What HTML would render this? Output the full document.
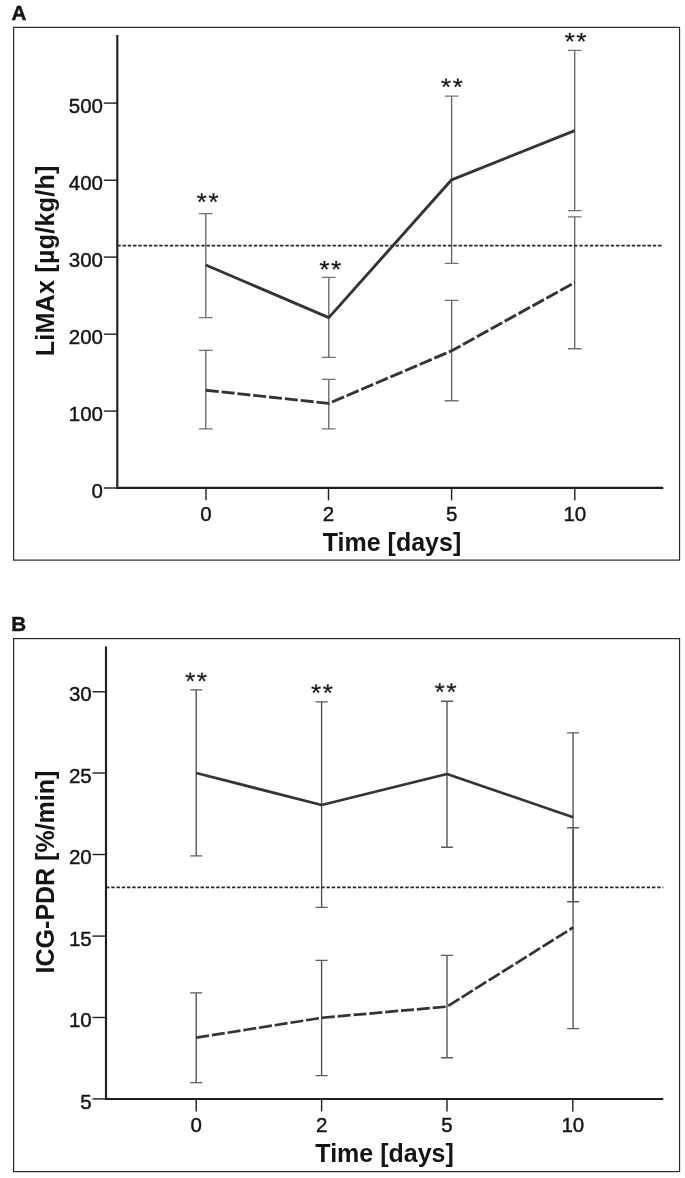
<!DOCTYPE html>
<html><head><meta charset="utf-8"><title>Figure</title>
<style>
html,body{margin:0;padding:0;background:#fff;}
body{width:685px;height:1178px;overflow:hidden;font-family:"Liberation Sans",sans-serif;}
svg{display:block;font-family:"Liberation Sans",sans-serif;filter:grayscale(1);}
</style></head><body>
<svg width="685" height="1178" viewBox="0 0 685 1178">
<rect width="685" height="1178" fill="#fff"/>
<g>
<rect x="13.6" y="27.4" width="665.95" height="532.7" fill="#fff" stroke="#2a2a2a" stroke-width="1.2"/>
<text x="11.4" y="20.4" font-size="20.6" font-weight="700" fill="#141414" stroke="#141414" stroke-width="0.45">A</text>
<path d="M205.8 213.6V317.6" stroke="#666666" stroke-width="1.35" fill="none"/><path d="M198.95 213.6H212.65M198.95 317.6H212.65" stroke="#727272" stroke-width="1.35" fill="none"/>
<path d="M205.8 350.4V428.9" stroke="#666666" stroke-width="1.35" fill="none"/><path d="M198.95 350.4H212.65M198.95 428.9H212.65" stroke="#727272" stroke-width="1.35" fill="none"/>
<path d="M328.8 277.4V357.4" stroke="#666666" stroke-width="1.35" fill="none"/><path d="M321.95 277.4H335.65M321.95 357.4H335.65" stroke="#727272" stroke-width="1.35" fill="none"/>
<path d="M328.8 379.3V428.9" stroke="#666666" stroke-width="1.35" fill="none"/><path d="M321.95 379.3H335.65M321.95 428.9H335.65" stroke="#727272" stroke-width="1.35" fill="none"/>
<path d="M451.6 96.1V263.4" stroke="#666666" stroke-width="1.35" fill="none"/><path d="M444.75 96.1H458.45M444.75 263.4H458.45" stroke="#727272" stroke-width="1.35" fill="none"/>
<path d="M451.6 300.4V400.7" stroke="#666666" stroke-width="1.35" fill="none"/><path d="M444.75 300.4H458.45M444.75 400.7H458.45" stroke="#727272" stroke-width="1.35" fill="none"/>
<path d="M574.7 50.4V210.6" stroke="#666666" stroke-width="1.35" fill="none"/><path d="M567.85 50.4H581.55M567.85 210.6H581.55" stroke="#727272" stroke-width="1.35" fill="none"/>
<path d="M574.7 216.8V348.7" stroke="#666666" stroke-width="1.35" fill="none"/><path d="M567.85 216.8H581.55M567.85 348.7H581.55" stroke="#727272" stroke-width="1.35" fill="none"/>
<path d="M117.3 245.6H663.3" stroke="#262626" stroke-width="1.7" stroke-dasharray="3.4 1.85" fill="none"/>
<polyline points="205.8,265 328.8,317.6 451.6,179.8 574.7,130.7" fill="none" stroke="#343434" stroke-width="2.9" stroke-linejoin="round"/>
<polyline points="205.8,390.2 328.8,403.4 451.6,350.8 574.7,282.5" fill="none" stroke="#343434" stroke-width="2.9" stroke-dasharray="13 2.9" stroke-linejoin="round"/>
<path d="M117.3 35V487.8H663.3" fill="none" stroke="#1e1e1e" stroke-width="2.15" stroke-linejoin="miter"/>
<path d="M103.8 488H117.3" stroke="#1e1e1e" stroke-width="1.4"/>
<text x="103" y="498" font-size="20.5" text-anchor="end" fill="#141414" stroke="#141414" stroke-width="0.42">0</text>
<path d="M103.8 411.1H117.3" stroke="#1e1e1e" stroke-width="1.4"/>
<text x="103" y="421.1" font-size="20.5" text-anchor="end" fill="#141414" stroke="#141414" stroke-width="0.42">100</text>
<path d="M103.8 334.2H117.3" stroke="#1e1e1e" stroke-width="1.4"/>
<text x="103" y="344.2" font-size="20.5" text-anchor="end" fill="#141414" stroke="#141414" stroke-width="0.42">200</text>
<path d="M103.8 257.1H117.3" stroke="#1e1e1e" stroke-width="1.4"/>
<text x="103" y="267.1" font-size="20.5" text-anchor="end" fill="#141414" stroke="#141414" stroke-width="0.42">300</text>
<path d="M103.8 180.2H117.3" stroke="#1e1e1e" stroke-width="1.4"/>
<text x="103" y="190.2" font-size="20.5" text-anchor="end" fill="#141414" stroke="#141414" stroke-width="0.42">400</text>
<path d="M103.8 103.1H117.3" stroke="#1e1e1e" stroke-width="1.4"/>
<text x="103" y="113.1" font-size="20.5" text-anchor="end" fill="#141414" stroke="#141414" stroke-width="0.42">500</text>
<path d="M206 487.8V500.3" stroke="#1e1e1e" stroke-width="1.4"/>
<text x="206" y="520.7" font-size="20.5" text-anchor="middle" fill="#141414" stroke="#141414" stroke-width="0.42">0</text>
<path d="M328.5 487.8V500.3" stroke="#1e1e1e" stroke-width="1.4"/>
<text x="328.5" y="520.7" font-size="20.5" text-anchor="middle" fill="#141414" stroke="#141414" stroke-width="0.42">2</text>
<path d="M451.6 487.8V500.3" stroke="#1e1e1e" stroke-width="1.4"/>
<text x="451.6" y="520.7" font-size="20.5" text-anchor="middle" fill="#141414" stroke="#141414" stroke-width="0.42">5</text>
<path d="M574.8 487.8V500.3" stroke="#1e1e1e" stroke-width="1.4"/>
<text x="574.8" y="520.7" font-size="20.5" text-anchor="middle" fill="#141414" stroke="#141414" stroke-width="0.42">10</text>
<path d="M202.3 197.8L202.6 193.6L200.9 193.6L201.2 197.8ZM201.92 197.28L197.64 195.57L197.11 197.19L201.58 198.32ZM201.31 197.48L198.36 201.02L199.73 202.02L202.19 198.12ZM201.31 198.12L203.77 202.02L205.14 201.02L202.19 197.48ZM201.92 198.32L206.39 197.19L205.86 195.57L201.58 197.28ZM214 197.8L214.3 193.6L212.6 193.6L212.9 197.8ZM213.62 197.28L209.34 195.57L208.81 197.19L213.28 198.32ZM213.01 197.48L210.06 201.02L211.43 202.02L213.89 198.12ZM213.01 198.12L215.47 202.02L216.84 201.02L213.89 197.48ZM213.62 198.32L218.09 197.19L217.56 195.57L213.28 197.28Z" fill="#141414" stroke="#141414" stroke-width="0.3" stroke-linejoin="round"/>
<path d="M325 265.3L325.3 261.1L323.6 261.1L323.9 265.3ZM324.62 264.78L320.34 263.07L319.81 264.69L324.28 265.82ZM324.01 264.98L321.06 268.52L322.43 269.52L324.89 265.62ZM324.01 265.62L326.47 269.52L327.84 268.52L324.89 264.98ZM324.62 265.82L329.09 264.69L328.56 263.07L324.28 264.78ZM336.7 265.3L337 261.1L335.3 261.1L335.6 265.3ZM336.32 264.78L332.04 263.07L331.51 264.69L335.98 265.82ZM335.71 264.98L332.76 268.52L334.13 269.52L336.59 265.62ZM335.71 265.62L338.17 269.52L339.54 268.52L336.59 264.98ZM336.32 265.82L340.79 264.69L340.26 263.07L335.98 264.78Z" fill="#141414" stroke="#141414" stroke-width="0.3" stroke-linejoin="round"/>
<path d="M446.6 82.9L446.9 78.7L445.2 78.7L445.5 82.9ZM446.22 82.38L441.94 80.67L441.41 82.29L445.88 83.42ZM445.61 82.58L442.66 86.12L444.03 87.12L446.49 83.22ZM445.61 83.22L448.07 87.12L449.44 86.12L446.49 82.58ZM446.22 83.42L450.69 82.29L450.16 80.67L445.88 82.38ZM458.3 82.9L458.6 78.7L456.9 78.7L457.2 82.9ZM457.92 82.38L453.64 80.67L453.11 82.29L457.58 83.42ZM457.31 82.58L454.36 86.12L455.73 87.12L458.19 83.22ZM457.31 83.22L459.77 87.12L461.14 86.12L458.19 82.58ZM457.92 83.42L462.39 82.29L461.86 80.67L457.58 82.38Z" fill="#141414" stroke="#141414" stroke-width="0.3" stroke-linejoin="round"/>
<path d="M570.3 37.3L570.6 33.1L568.9 33.1L569.2 37.3ZM569.92 36.78L565.64 35.07L565.11 36.69L569.58 37.82ZM569.31 36.98L566.36 40.52L567.73 41.52L570.19 37.62ZM569.31 37.62L571.77 41.52L573.14 40.52L570.19 36.98ZM569.92 37.82L574.39 36.69L573.86 35.07L569.58 36.78ZM582 37.3L582.3 33.1L580.6 33.1L580.9 37.3ZM581.62 36.78L577.34 35.07L576.81 36.69L581.28 37.82ZM581.01 36.98L578.06 40.52L579.43 41.52L581.89 37.62ZM581.01 37.62L583.47 41.52L584.84 40.52L581.89 36.98ZM581.62 37.82L586.09 36.69L585.56 35.07L581.28 36.78Z" fill="#141414" stroke="#141414" stroke-width="0.3" stroke-linejoin="round"/>
<text x="392" y="551" font-size="25" font-weight="700" text-anchor="middle" fill="#141414">Time [days]</text>
<text transform="translate(54 260.85) rotate(-90)" font-size="25" font-weight="700" text-anchor="middle" letter-spacing="0.285" fill="#141414">LiMAx [µg/kg/h]</text>
</g>
<g>
<rect x="13.6" y="638.6" width="665.95" height="533" fill="#fff" stroke="#2a2a2a" stroke-width="1.2"/>
<text x="11.2" y="631.2" font-size="20.6" font-weight="700" fill="#141414" stroke="#141414" stroke-width="0.45">B</text>
<path d="M196.2 689.8V855.8" stroke="#505050" stroke-width="1.35" fill="none"/><path d="M190.2 689.8H202.2M190.2 855.8H202.2" stroke="#5c5c5c" stroke-width="1.35" fill="none"/>
<path d="M196.2 992.8V1082.6" stroke="#505050" stroke-width="1.35" fill="none"/><path d="M190.2 992.8H202.2M190.2 1082.6H202.2" stroke="#5c5c5c" stroke-width="1.35" fill="none"/>
<path d="M321.6 701.9V907.3" stroke="#505050" stroke-width="1.35" fill="none"/><path d="M315.6 701.9H327.6M315.6 907.3H327.6" stroke="#5c5c5c" stroke-width="1.35" fill="none"/>
<path d="M321.6 960.4V1075.6" stroke="#505050" stroke-width="1.35" fill="none"/><path d="M315.6 960.4H327.6M315.6 1075.6H327.6" stroke="#5c5c5c" stroke-width="1.35" fill="none"/>
<path d="M447 701.2V847.2" stroke="#505050" stroke-width="1.35" fill="none"/><path d="M441 701.2H453M441 847.2H453" stroke="#5c5c5c" stroke-width="1.35" fill="none"/>
<path d="M447 955.4V1057.7" stroke="#505050" stroke-width="1.35" fill="none"/><path d="M441 955.4H453M441 1057.7H453" stroke="#5c5c5c" stroke-width="1.35" fill="none"/>
<path d="M573.1 732.8V901.7" stroke="#505050" stroke-width="1.35" fill="none"/><path d="M567.1 732.8H579.1M567.1 901.7H579.1" stroke="#5c5c5c" stroke-width="1.35" fill="none"/>
<path d="M573.1 827.7V1028.6" stroke="#505050" stroke-width="1.35" fill="none"/><path d="M567.1 827.7H579.1M567.1 1028.6H579.1" stroke="#5c5c5c" stroke-width="1.35" fill="none"/>
<path d="M106 887.3H663.3" stroke="#262626" stroke-width="1.7" stroke-dasharray="3.4 1.85" fill="none"/>
<polyline points="196.2,773 321.6,805 447,774 573.1,817.3" fill="none" stroke="#343434" stroke-width="2.7" stroke-linejoin="round"/>
<polyline points="196.2,1037.7 321.6,1017.8 447,1006.6 573.1,927.5" fill="none" stroke="#343434" stroke-width="2.7" stroke-dasharray="13 2.9" stroke-linejoin="round"/>
<path d="M106 646.5V1099.0H663.3" fill="none" stroke="#1e1e1e" stroke-width="2.15" stroke-linejoin="miter"/>
<path d="M92.5 1098.9H106" stroke="#1e1e1e" stroke-width="1.4"/>
<text x="91.7" y="1108.5" font-size="20.5" text-anchor="end" fill="#141414" stroke="#141414" stroke-width="0.42">5</text>
<path d="M92.5 1017.5H106" stroke="#1e1e1e" stroke-width="1.4"/>
<text x="91.7" y="1027.1" font-size="20.5" text-anchor="end" fill="#141414" stroke="#141414" stroke-width="0.42">10</text>
<path d="M92.5 936.1H106" stroke="#1e1e1e" stroke-width="1.4"/>
<text x="91.7" y="945.7" font-size="20.5" text-anchor="end" fill="#141414" stroke="#141414" stroke-width="0.42">15</text>
<path d="M92.5 854.5H106" stroke="#1e1e1e" stroke-width="1.4"/>
<text x="91.7" y="864.1" font-size="20.5" text-anchor="end" fill="#141414" stroke="#141414" stroke-width="0.42">20</text>
<path d="M92.5 773H106" stroke="#1e1e1e" stroke-width="1.4"/>
<text x="91.7" y="782.6" font-size="20.5" text-anchor="end" fill="#141414" stroke="#141414" stroke-width="0.42">25</text>
<path d="M92.5 691.8H106" stroke="#1e1e1e" stroke-width="1.4"/>
<text x="91.7" y="701.4" font-size="20.5" text-anchor="end" fill="#141414" stroke="#141414" stroke-width="0.42">30</text>
<path d="M196.2 1099.0V1111.5" stroke="#1e1e1e" stroke-width="1.4"/>
<text x="196.2" y="1131.9" font-size="20.5" text-anchor="middle" fill="#141414" stroke="#141414" stroke-width="0.42">0</text>
<path d="M321.6 1099.0V1111.5" stroke="#1e1e1e" stroke-width="1.4"/>
<text x="321.6" y="1131.9" font-size="20.5" text-anchor="middle" fill="#141414" stroke="#141414" stroke-width="0.42">2</text>
<path d="M447 1099.0V1111.5" stroke="#1e1e1e" stroke-width="1.4"/>
<text x="447" y="1131.9" font-size="20.5" text-anchor="middle" fill="#141414" stroke="#141414" stroke-width="0.42">5</text>
<path d="M572.8 1099.0V1111.5" stroke="#1e1e1e" stroke-width="1.4"/>
<text x="572.8" y="1131.9" font-size="20.5" text-anchor="middle" fill="#141414" stroke="#141414" stroke-width="0.42">10</text>
<path d="M190.8 677L191.1 672.8L189.4 672.8L189.7 677ZM190.42 676.48L186.14 674.77L185.61 676.39L190.08 677.52ZM189.81 676.68L186.86 680.22L188.23 681.22L190.69 677.32ZM189.81 677.32L192.27 681.22L193.64 680.22L190.69 676.68ZM190.42 677.52L194.89 676.39L194.36 674.77L190.08 676.48ZM202.5 677L202.8 672.8L201.1 672.8L201.4 677ZM202.12 676.48L197.84 674.77L197.31 676.39L201.78 677.52ZM201.51 676.68L198.56 680.22L199.93 681.22L202.39 677.32ZM201.51 677.32L203.97 681.22L205.34 680.22L202.39 676.68ZM202.12 677.52L206.59 676.39L206.06 674.77L201.78 676.48Z" fill="#141414" stroke="#141414" stroke-width="0.3" stroke-linejoin="round"/>
<path d="M316.65 688.8L316.95 684.6L315.25 684.6L315.55 688.8ZM316.27 688.28L311.99 686.57L311.46 688.19L315.93 689.32ZM315.66 688.48L312.71 692.02L314.08 693.02L316.54 689.12ZM315.66 689.12L318.12 693.02L319.49 692.02L316.54 688.48ZM316.27 689.32L320.74 688.19L320.21 686.57L315.93 688.28ZM328.35 688.8L328.65 684.6L326.95 684.6L327.25 688.8ZM327.97 688.28L323.69 686.57L323.16 688.19L327.63 689.32ZM327.36 688.48L324.41 692.02L325.78 693.02L328.24 689.12ZM327.36 689.12L329.82 693.02L331.19 692.02L328.24 688.48ZM327.97 689.32L332.44 688.19L331.91 686.57L327.63 688.28Z" fill="#141414" stroke="#141414" stroke-width="0.3" stroke-linejoin="round"/>
<path d="M440.3 687.8L440.6 683.6L438.9 683.6L439.2 687.8ZM439.92 687.28L435.64 685.57L435.11 687.19L439.58 688.32ZM439.31 687.48L436.36 691.02L437.73 692.02L440.19 688.12ZM439.31 688.12L441.77 692.02L443.14 691.02L440.19 687.48ZM439.92 688.32L444.39 687.19L443.86 685.57L439.58 687.28ZM452 687.8L452.3 683.6L450.6 683.6L450.9 687.8ZM451.62 687.28L447.34 685.57L446.81 687.19L451.28 688.32ZM451.01 687.48L448.06 691.02L449.43 692.02L451.89 688.12ZM451.01 688.12L453.47 692.02L454.84 691.02L451.89 687.48ZM451.62 688.32L456.09 687.19L455.56 685.57L451.28 687.28Z" fill="#141414" stroke="#141414" stroke-width="0.3" stroke-linejoin="round"/>
<text x="384.6" y="1161.8" font-size="25" font-weight="700" text-anchor="middle" fill="#141414">Time [days]</text>
<text transform="translate(54 872) rotate(-90)" font-size="25" font-weight="700" text-anchor="middle" letter-spacing="0" fill="#141414">ICG-PDR [%/min]</text>
</g>
</svg>
</body></html>
